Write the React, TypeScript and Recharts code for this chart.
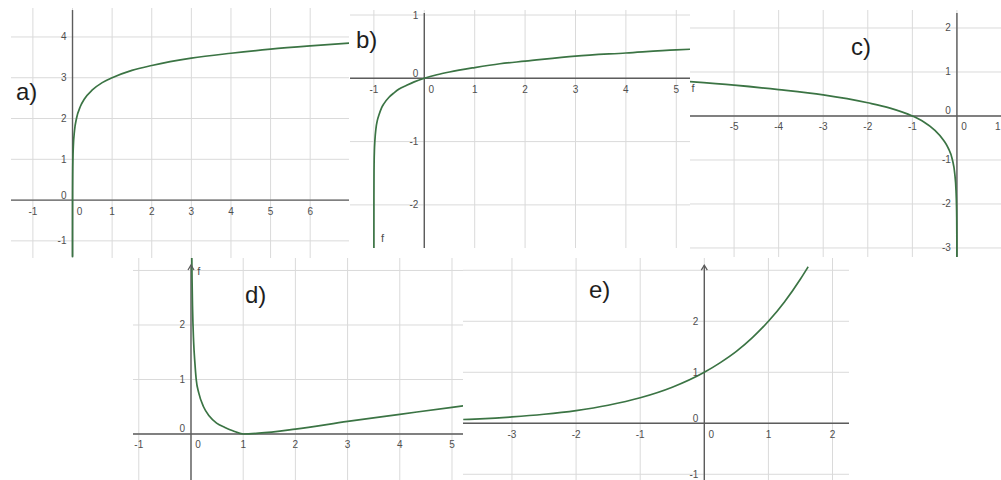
import React from 'react';
import { ComposedChart, Line, Scatter, XAxis, YAxis, ReferenceLine } from 'recharts';

// ---- curve samples (x, f(x)) for each panel ----
// a) rising logarithm, vertical asymptote at x = 0
const aX = [0.00005, 0.0001, 0.001, 0.002, 0.005, 0.01, 0.02, 0.05, 0.1, 0.2, 0.3, 0.5, 0.75, 1, 1.5, 2, 3, 4, 5, 6, 7];
const aY = [-1.4, -1.0, 0.0, 0.3, 0.7, 1.0, 1.3, 1.7, 2.0, 2.3, 2.48, 2.7, 2.88, 3.0, 3.18, 3.3, 3.48, 3.6, 3.7, 3.78, 3.85];

// b) logarithm shifted left, asymptote at x = -1
const bX = [-0.99999, -0.9995, -0.998, -0.995, -0.99, -0.98, -0.96, -0.93, -0.9, -0.85, -0.8, -0.7, -0.6, -0.5, -0.35, -0.2, 0, 0.25, 0.5, 1, 1.5, 2, 3, 4, 5, 5.3];
const bY = [-2.88, -1.9, -1.55, -1.32, -1.15, -0.98, -0.8, -0.66, -0.58, -0.47, -0.4, -0.3, -0.23, -0.17, -0.11, -0.056, 0, 0.056, 0.1, 0.17, 0.23, 0.27, 0.35, 0.4, 0.45, 0.46];

// c) logarithm of -x, asymptote at x = 0 from the left
const cX = [-6, -5, -4, -3, -2, -1.5, -1, -0.75, -0.5, -0.3, -0.2, -0.1, -0.05, -0.02, -0.01, -0.005, -0.002, -0.001, -0.0005];
const cY = [0.78, 0.7, 0.6, 0.48, 0.3, 0.18, 0, -0.13, -0.32, -0.55, -0.72, -1.0, -1.3, -1.7, -2.0, -2.3, -2.7, -3.0, -3.3];

// d) squared logarithm, minimum at x = 1
const dX = [0.015, 0.02, 0.03, 0.05, 0.075, 0.1, 0.15, 0.24, 0.35, 0.49, 0.65, 0.8, 1, 1.3, 2, 3, 4, 5, 5.25];
const dY = [3.3, 2.85, 2.3, 1.7, 1.3, 1.0, 0.75, 0.5, 0.33, 0.2, 0.12, 0.06, 0.0, 0.015, 0.09, 0.23, 0.36, 0.49, 0.52];

// e) exponential growth through (0, 1)
const eX = [-3.76, -3.5, -3, -2.5, -2, -1.5, -1, -0.5, 0, 0.25, 0.5, 0.75, 1, 1.25, 1.5, 1.62];
const eY = [0.074, 0.088, 0.125, 0.177, 0.25, 0.354, 0.5, 0.707, 1, 1.19, 1.41, 1.68, 2, 2.38, 2.83, 3.07];

// ---- axis tick labels and grid steps ----
const aXTicks = [-1, 0, 1, 2, 3, 4, 5, 6];
const aYTicks = [-1, 0, 1, 2, 3, 4];
const aGridX = [-1, 0, 1, 2, 3, 4, 5, 6];
const aGridY = [-1, 0, 1, 2, 3, 4];

const bXTicks = [-1, 0, 1, 2, 3, 4, 5];
const bYTicks = [-2, -1, 0, 1];
const bGridX = [-1, 0, 1, 2, 3, 4, 5];
const bGridY = [-2, -1, 0, 1];

const cXTicks = [-5, -4, -3, -2, -1, 0, 1];
const cYTicks = [-3, -2, -1, 0, 1, 2];
const cGridX = [-6, -5, -4, -3, -2, -1, 0, 1];
const cGridY = [-3, -2, -1, 0, 1, 2];

const dXTicks = [-1, 0, 1, 2, 3, 4, 5];
const dYTicks = [0, 1, 2];
const dGridX = [-1, 0, 1, 2, 3, 4, 5];
const dGridY = [0, 1, 2, 3];

const eXTicks = [-3, -2, -1, 0, 1, 2];
const eYTicks = [-1, 0, 1, 2];
const eGridX = [-3, -2, -1, 0, 1, 2];
const eGridY = [-1, 0, 1, 2, 3];

const FONT = '"Liberation Sans", Arial, Helvetica, sans-serif';
const CURVE = '#3b7444';
const AXIS = '#5c5c5c';
const GRID = '#dadada';

type Pt = { x: number; y: number };
type Mark = Pt & { text: string; kind: string };

const zip = (xs: number[], ys: number[]): Pt[] => xs.map((x, i) => ({ x, y: ys[i] }));

function buildMarks(xTicks: number[], yTicks: number[], xMax: number, axisTop: number, arrow: boolean, fAt?: Pt): Mark[] {
  const out: Mark[] = [];
  xTicks.forEach((k) =>
    out.push({ x: k, y: 0, text: String(k), kind: k === 0 ? 'x0' : xMax - k < 0.1 ? 'xEdge' : 'x' })
  );
  yTicks.forEach((k) => out.push({ x: 0, y: k, text: String(k), kind: k === 0 ? 'y0' : 'y' }));
  if (fAt) out.push({ x: fAt.x, y: fAt.y, text: 'f', kind: 'f' });
  if (arrow) out.push({ x: 0, y: axisTop, text: '', kind: 'arrow' });
  return out;
}

const MarkShape = (props: any) => {
  const { cx, cy, payload } = props;
  if (cx == null || cy == null || !payload) return <g />;
  const t = { fontSize: 10, fill: '#4e4e4e', fontFamily: FONT } as const;
  switch (payload.kind) {
    case 'x':
      return <text x={cx} y={cy + 11} textAnchor="middle" dominantBaseline="central" {...t}>{payload.text}</text>;
    case 'xEdge':
      return <text x={cx - 1} y={cy + 11} textAnchor="end" dominantBaseline="central" {...t}>{payload.text}</text>;
    case 'x0':
      return <text x={cx + 7} y={cy + 11} textAnchor="middle" dominantBaseline="central" {...t}>{payload.text}</text>;
    case 'y':
      return <text x={cx - 6} y={cy} textAnchor="end" dominantBaseline="central" {...t}>{payload.text}</text>;
    case 'y0':
      return <text x={cx - 6} y={cy - 5} textAnchor="end" dominantBaseline="central" {...t}>{payload.text}</text>;
    case 'f':
      return <text x={cx} y={cy} textAnchor="middle" dominantBaseline="central" {...t} fontSize={11}>f</text>;
    case 'arrow':
      return <path d={`M${cx - 3},${cy + 5} L${cx},${cy} L${cx + 3},${cy + 5}`} stroke={AXIS} strokeWidth={1.3} fill="none" />;
    default:
      return <g />;
  }
};

type PanelCfg = {
  left: number;
  top: number;
  width: number;
  height: number;
  xDomain: [number, number];
  yDomain: [number, number];
  gridX: number[];
  gridY: number[];
  axisY: [number, number];
  curve: Pt[];
  marks: Mark[];
};

function Panel({ cfg }: { cfg: PanelCfg }) {
  const xAxisLine = [
    { x: cfg.xDomain[0], y: 0 },
    { x: cfg.xDomain[1], y: 0 },
  ];
  const yAxisLine = [
    { x: 0, y: cfg.axisY[0] },
    { x: 0, y: cfg.axisY[1] },
  ];
  return (
    <div style={{ position: 'absolute', left: cfg.left, top: cfg.top }}>
      <ComposedChart width={cfg.width} height={cfg.height} margin={{ top: 0, right: 0, bottom: 0, left: 0 }}>
        <XAxis dataKey="x" type="number" domain={cfg.xDomain} allowDataOverflow hide />
        <YAxis dataKey="y" type="number" domain={cfg.yDomain} allowDataOverflow hide />
        {cfg.gridX.map((v) => (
          <ReferenceLine key={`gx${v}`} x={v} stroke={GRID} strokeWidth={1} />
        ))}
        {cfg.gridY.map((v) => (
          <ReferenceLine key={`gy${v}`} y={v} stroke={GRID} strokeWidth={1} />
        ))}
        <Line data={xAxisLine} dataKey="y" type="linear" stroke={AXIS} strokeWidth={1.4} dot={false} activeDot={false} isAnimationActive={false} />
        <Line data={yAxisLine} dataKey="y" type="linear" stroke={AXIS} strokeWidth={1.4} dot={false} activeDot={false} isAnimationActive={false} />
        <Line data={cfg.curve} dataKey="y" type="monotone" stroke={CURVE} strokeWidth={1.7} dot={false} activeDot={false} isAnimationActive={false} />
        <Scatter data={cfg.marks} dataKey="y" shape={MarkShape} isAnimationActive={false} />
      </ComposedChart>
    </div>
  );
}

const panelA: PanelCfg = {
  left: 11, top: 8, width: 338, height: 250,
  xDomain: [-1.553, 6.98], yDomain: [-1.42, 4.71],
  gridX: aGridX, gridY: aGridY, axisY: [-1.38, 4.66],
  curve: zip(aX, aY),
  marks: buildMarks(aXTicks, aYTicks, 6.98, 4.66, false),
};

const panelB: PanelCfg = {
  left: 350, top: 10, width: 340, height: 238,
  xDomain: [-1.474, 5.272], yDomain: [-2.681, 1.079],
  gridX: bGridX, gridY: bGridY, axisY: [-2.68, 1.03],
  curve: zip(bX, bY),
  marks: buildMarks(bXTicks, bYTicks, 5.272, 1.03, false, { x: -0.83, y: -2.53 }),
};

const panelC: PanelCfg = {
  left: 690, top: 10, width: 311, height: 247,
  xDomain: [-5.989, 0.989], yDomain: [-3.205, 2.409],
  gridX: cGridX, gridY: cGridY, axisY: [-3.2, 2.34],
  curve: zip(cX, cY),
  marks: buildMarks(cXTicks, cYTicks, 0.989, 2.34, false, { x: -5.92, y: 0.64 }),
};

const panelD: PanelCfg = {
  left: 133, top: 258, width: 330, height: 222,
  xDomain: [-1.111, 5.211], yDomain: [-0.844, 3.229],
  gridX: dGridX, gridY: dGridY, axisY: [-0.85, 3.1],
  curve: zip(dX, dY),
  marks: buildMarks(dXTicks, dYTicks, 5.211, 3.1, true, { x: 0.15, y: 2.99 }),
};

const panelE: PanelCfg = {
  left: 463, top: 258, width: 386, height: 222,
  xDomain: [-3.764, 2.257], yDomain: [-1.112, 3.241],
  gridX: eGridX, gridY: eGridY, axisY: [-1.12, 3.1],
  curve: zip(eX, eY),
  marks: buildMarks(eXTicks, eYTicks, 2.257, 3.1, true),
};

const panelTags = [
  { text: 'a)', x: 16, y: 100 },
  { text: 'b)', x: 356, y: 48 },
  { text: 'c)', x: 851, y: 55 },
  { text: 'd)', x: 245, y: 303 },
  { text: 'e)', x: 589, y: 298 },
];

export default function App() {
  return (
    <div style={{ position: 'absolute', left: 0, top: 0, width: 1001, height: 480, background: '#ffffff', overflow: 'hidden' }}>
      <Panel cfg={panelA} />
      <Panel cfg={panelB} />
      <Panel cfg={panelC} />
      <Panel cfg={panelD} />
      <Panel cfg={panelE} />
      <svg width={1001} height={480} style={{ position: 'absolute', left: 0, top: 0, pointerEvents: 'none' }}>
        {panelTags.map((t) => (
          <text key={t.text} x={t.x} y={t.y} fontSize={24} fontFamily={FONT} fill="#1e1e1e">
            {t.text}
          </text>
        ))}
      </svg>
    </div>
  );
}
